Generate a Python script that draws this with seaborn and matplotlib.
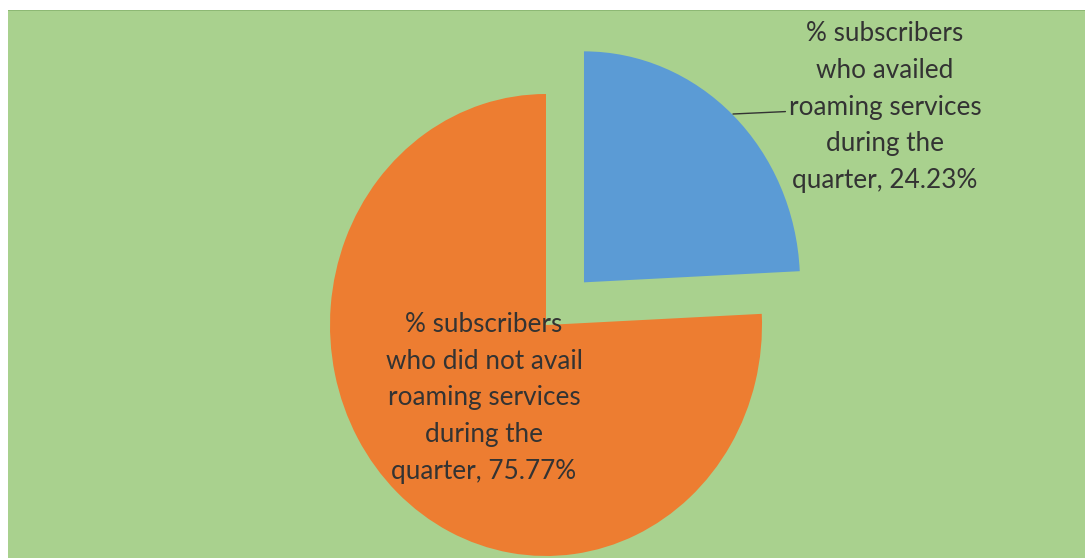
import matplotlib
matplotlib.use("Agg")
import matplotlib.pyplot as plt
import seaborn as sns
from matplotlib.patches import Rectangle

# ---- data ----
categories = [
    "% subscribers\nwho availed\nroaming services\nduring the\nquarter",
    "% subscribers\nwho did not avail\nroaming services\nduring the\nquarter",
]
values = [24.23, 75.77]
explode_frac = [0.255, 0.0]
colors = ["#5B9BD5", "#ED7D31"]

sns.set_theme(style="white")
plt.rcParams["font.family"] = ["Lato", "DejaVu Sans"]
palette = sns.color_palette(colors)

W, H = 1085, 558
fig = plt.figure(figsize=(W / 100, H / 100), dpi=100)
fig.patch.set_facecolor("white")
# green chart area background
fig.patches.append(Rectangle((8 / W, 0), 1 - 8 / W, (H - 10) / H,
                             transform=fig.transFigure, facecolor="#A9D18E",
                             edgecolor="none", zorder=-2))
fig.patches.append(Rectangle((8 / W, (H - 11) / H), 1 - 8 / W, 1.5 / H,
                             transform=fig.transFigure, facecolor="#8DB874",
                             edgecolor="none", zorder=-1))

ax = fig.add_axes([0, 0, 1, 1])
ax.patch.set_alpha(0)
ax.set_zorder(1)

wedges, _ = ax.pie(values, colors=palette, explode=explode_frac,
                   startangle=90, counterclock=False, radius=1.0,
                   wedgeprops=dict(linewidth=0))

# pixel geometry: pie vertex at (546, 325), rx=216px, ry=231px
cx, cy, rx, ry = 546, 325, 216, 231
ax.set_aspect("auto")
ax.set_xlim(-cx / rx, (W - cx) / rx)
ax.set_ylim(-(H - cy) / ry, cy / ry)
ax.axis("off")

def px(x, y):
    return ((x - cx) / rx, (cy - y) / ry)

txt_kw = dict(ha="center", va="center", fontsize=18.8, color="#333333",
              linespacing=1.58)

# blue slice label with leader line
lbl0 = categories[0] + f", {values[0]:.2f}%"
ax.annotate(lbl0, xy=px(733, 114), xytext=px(885, 107), textcoords="data",
            arrowprops=dict(arrowstyle="-", color="#333333", lw=1.0,
                            shrinkA=0, shrinkB=0,
                            connectionstyle="arc3,rad=0"),
            **txt_kw)

# orange slice label inside
lbl1 = categories[1] + f", {values[1]:.2f}%"
ax.text(*px(484, 398), lbl1, **txt_kw)

fig.savefig("out.png", dpi=100)
